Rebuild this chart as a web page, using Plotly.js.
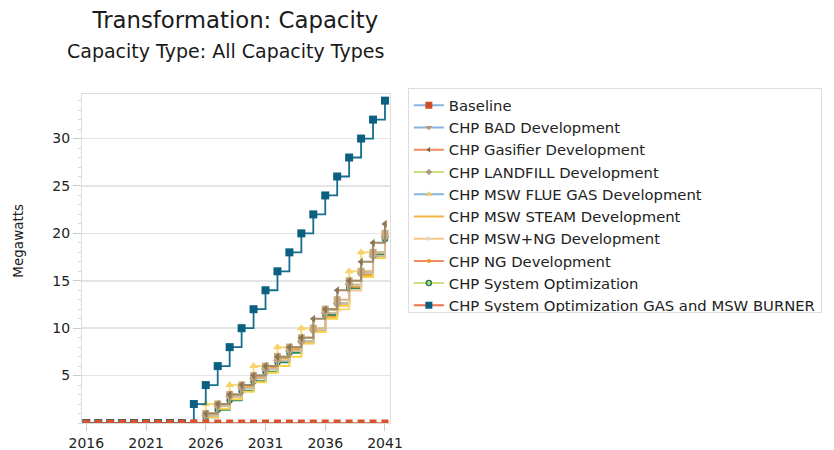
<!DOCTYPE html>
<html><head><meta charset="utf-8">
<script src="https://cdn.plot.ly/plotly-3.0.1.min.js"></script>
<style>html,body{margin:0;padding:0;background:#fff}#chart{width:834px;height:450px}</style>
</head><body><div id="chart"></div>
<script>
const years = [2016,2017,2018,2019,2020,2021,2022,2023,2024,2025,2026,2027,2028,2029,2030,2031,2032,2033,2034,2035,2036,2037,2038,2039,2040,2041];
const xTickVals = [2016,2021,2026,2031,2036,2041];
const yTickVals = [5,10,15,20,25,30];

const baseline   = [0,0,0,0,0,0,0,0,0,0,0,0,0,0,0,0,0,0,0,0,0,0,0,0,0,0];
const chpBad     = [0,0,0,0,0,0,0,0,0,0,1,2,3,4,5,6,7,8,9,10,12,13,15,16,18,20];
const chpGasifier= [0,0,0,0,0,0,0,0,0,0,1,2,3,4,5,6,7,8,9,11,12,14,15,17,19,21];
const chpLandfill= [0,0,0,0,0,0,0,0,0,0,0.8,1.8,2.8,3.7,4.7,5.7,6.6,7.6,8.6,9.8,11.6,12.6,14.6,15.8,17.6,19.6];
const chpFlueGas = [0,0,0,0,0,0,0,0,0,0,2,2,4,4,6,6,8,8,10,10,12,12,16,18,18,20];
const chpSteam   = [0,0,0,0,0,0,0,0,0,0,0.6,1.5,2.5,3.3,4.3,5.3,6,7,8.4,9.6,11,12.4,14,15.4,17.4,19.4];
const chpMswNg   = [0,0,0,0,0,0,0,0,0,0,1,2,3,4,5,6,7,8,9,10,12,13,14,16,18,20];
const chpNg      = [0,0,0,0,0,0,0,0,0,0,1,1.8,2.8,3.8,4.8,5.8,6.8,7.8,8.4,9.6,11.2,12.4,14.4,15.6,17.6,20];
const chpSysOpt  = [0,0,0,0,0,0,0,0,0,0,0.6,1.4,2.4,3.4,4.4,5.4,6.4,7.4,8.6,9.8,11.4,12.6,14.2,15.8,17.8,19.4];
const chpBurner  = [0,0,0,0,0,0,0,0,0,2,4,6,8,10,12,14,16,18,20,22,24,26,28,30,32,34];

const names = ['Baseline','CHP BAD Development','CHP Gasifier Development','CHP LANDFILL Development',
  'CHP MSW FLUE GAS Development','CHP MSW STEAM Development','CHP MSW+NG Development','CHP NG Development',
  'CHP System Optimization','CHP System Optimization GAS and MSW BURNER'];

function dataTrace(y, lineColor, marker, width){
  const t = {x: years, y: y, type:'scatter', mode: marker ? 'lines+markers' : 'lines',
    line:{shape:'hv', color:lineColor, width: width || 2}, showlegend:false, hoverinfo:'x+y'};
  if (marker) t.marker = marker;
  return t;
}
const traces = [
  dataTrace(chpSysOpt, '#2a8a66', {symbol:'circle-open', size:5, color:'#1f7a5a', line:{width:1.5}}),
  dataTrace(chpNg, '#f0a030', {symbol:'circle', size:4, color:'#ee8f1a'}),
  dataTrace(chpSteam, '#f6d34a', null),
  dataTrace(chpLandfill, '#cdbda3', {symbol:'diamond', size:7, color:'#b9a68c'}),
  dataTrace(chpFlueGas, '#f8da7a', {symbol:'triangle-up', size:8, color:'#f7d36b'}),
  dataTrace(chpMswNg, '#e8caa6', {symbol:'triangle-right', size:7, color:'#dcc3a4'}),
  dataTrace(chpBad, '#d7b994', {symbol:'square', size:7, color:'#c9a97f'}),
  dataTrace(chpGasifier, '#a08a68', {symbol:'triangle-left', size:7, color:'#8c7654'}),
  dataTrace(chpBurner, '#156e8e', {symbol:'square', size:8, color:'#0b5f80'}, 1.8),
  dataTrace(baseline, '#d6532b', {symbol:'square', size:7, color:'#d6532b'}, 1.5)
];
const legendLine = ['#86b4de','#86b4de','#f08a62','#c9df7e','#86b4de','#f5b343','#f6c68c','#f08a62','#c9df7e','#f0704c'];
const legendMarker = [
  {symbol:'square', size:7, color:'#cc4f2a'},
  {symbol:'triangle-down', size:6, color:'#b99b78'},
  {symbol:'triangle-left', size:5, color:'#7d6a4e'},
  {symbol:'diamond', size:5, color:'#a8998a'},
  {symbol:'triangle-up', size:6, color:'#f2cc55'},
  null,
  {symbol:'triangle-right', size:5, color:'#d6d6d6'},
  {symbol:'circle', size:4, color:'#f0961e'},
  {symbol:'circle-open', size:5, color:'#2a7a50', line:{width:1.5}},
  {symbol:'square', size:7, color:'#0b5f80'}
];
names.forEach((n,i)=>{
  const t = {x:[null], y:[null], type:'scatter', name:n, mode: legendMarker[i] ? 'lines+markers' : 'lines',
    line:{color:legendLine[i], width:2}, showlegend:true, hoverinfo:'skip'};
  if (legendMarker[i]) t.marker = legendMarker[i];
  traces.push(t);
});

const layout = {
  width:834, height:450,
  margin:{l:82, r:444, t:94, b:27},
  paper_bgcolor:'#fff', plot_bgcolor:'#fff',
  font:{family:'DejaVu Sans, Verdana, sans-serif', color:'#222', size:14},
  title:{text:'Transformation: Capacity', xref:'paper', x:0.498, xanchor:'center', y:0.955, yanchor:'middle',
    font:{size:22.8, color:'#1a1a1a'}},
  xaxis:{range:[2015.64, 2041.42], tickmode:'array', tickvals:xTickVals, ticktext:xTickVals.map(String),
    ticks:'outside', ticklen:7, tickcolor:'#cccccc', showgrid:false, showline:true, linecolor:'#dcdcdc',
    mirror:true, zeroline:false, tickfont:{size:14, color:'#222'}},
  yaxis:{range:[0, 34.7], tickmode:'array', tickvals:yTickVals, ticks:'outside', ticklen:8, tickcolor:'#cccccc',
    showgrid:true, gridcolor:'#e4e4e4', gridwidth:1.5, showline:true, linecolor:'#dcdcdc', mirror:true,
    zeroline:false, tickfont:{size:14, color:'#222'},
    minor:{ticks:'outside', ticklen:3, dtick:1, tick0:0, tickcolor:'#d8d8d8', showgrid:false}},
  legend:{x:1.058, xanchor:'left', y:1.018, yanchor:'top', bordercolor:'#dddddd', borderwidth:1,
    font:{size:14.8, color:'#222'}, bgcolor:'#fff', itemwidth:30},
  annotations:[
    {text:'Capacity Type: All Capacity Types', xref:'paper', yref:'paper', x:0.466, y:1.1306,
      xanchor:'center', yanchor:'middle', showarrow:false, font:{size:19, color:'#1a1a1a'}},
    {text:'Megawatts', xref:'paper', yref:'paper', x:-0.208, y:0.554, textangle:-90,
      xanchor:'center', yanchor:'middle', showarrow:false, font:{size:13.5, color:'#222'}}
  ],
  showlegend:true
};
Plotly.newPlot('chart', traces, layout, {displayModeBar:false, staticPlot:true});
</script></body></html>
